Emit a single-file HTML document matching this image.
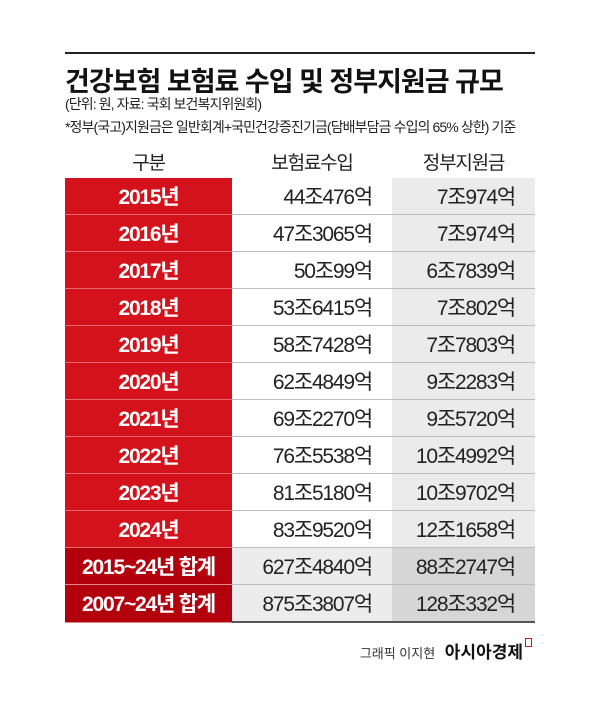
<!DOCTYPE html>
<html><head><meta charset="utf-8">
<style>
body{margin:0;background:#fff;width:600px;height:712px;position:relative;font-family:"Liberation Sans","Noto Sans CJK KR",sans-serif;overflow:hidden}
.rule{position:absolute;left:65px;top:52px;width:470px;height:2px;background:#222}
.title{position:absolute;left:65px;top:60px;font-size:27px;font-weight:bold;color:#111;letter-spacing:-1px;white-space:nowrap}
.sub{position:absolute;left:65px;font-size:14px;color:#222;letter-spacing:-0.9px;white-space:nowrap}
table{position:absolute;left:65px;top:144px;width:470px;border-collapse:collapse;font-size:21px;letter-spacing:-1.2px}
th{font-weight:normal;height:32px;font-size:19px;color:#222;text-align:center}
td{height:36px;border-bottom:1px solid #bdbdbd;padding:0}
td.y{background:#d3121c;color:#fff;font-weight:bold;text-align:center;width:167px;border-bottom:1px solid #e36a6f}
td.v{background:#fff;text-align:right;padding-right:20px;width:140px;color:#222}
td.g{background:#ebebeb;text-align:right;padding-right:20px;color:#222}
tr.s td.y{background:#b3000d;border-bottom:1px solid #d88}
tr.s td.v{background:#ececec}
tr.s td.g{background:#d6d6d6}
tr.last td{border-bottom:2px solid #555}
.credit{position:absolute;right:68px;top:638px;font-size:13px;color:#333;white-space:nowrap}
.credit b{font-size:17px;color:#111;margin-left:6px}
.credit i{display:inline-block;width:5px;height:7px;border:1.5px solid #d3121c;vertical-align:top;margin-left:2px}
</style></head><body>
<div class="rule"></div>
<div class="title">건강보험 보험료 수입 및 정부지원금 규모</div>
<div class="sub" style="top:94px">(단위: 원, 자료: 국회 보건복지위원회)</div>
<div class="sub" style="top:117px">*정부(국고)지원금은 일반회계+국민건강증진기금(담배부담금 수입의 65% 상한) 기준</div>
<table>
<thead><tr><th>구분</th><th>보험료수입</th><th>정부지원금</th></tr></thead>
<tbody id="tb"></tbody>
</table>
<div class="credit">그래픽 이지현 <b>아시아경제</b><i></i></div>
<script>
const labels=["2015년","2016년","2017년","2018년","2019년","2020년","2021년","2022년","2023년","2024년","2015~24년 합계","2007~24년 합계"];
const premiums=["44조476억","47조3065억","50조99억","53조6415억","58조7428억","62조4849억","69조2270억","76조5538억","81조5180억","83조9520억","627조4840억","875조3807억"];
const subsidies=["7조974억","7조974억","6조7839억","7조802억","7조7803억","9조2283억","9조5720억","10조4992억","10조9702억","12조1658억","88조2747억","128조332억"];
const tb=document.getElementById('tb');
labels.forEach((l,i)=>{
  const tr=document.createElement('tr');
  
  
  if(i>=10)tr.className='s';
  if(i===labels.length-1)tr.className='s last';
  const a=document.createElement('td');a.className='y';a.textContent=l;
  
  
  const b=document.createElement('td');b.className='v';b.textContent=premiums[i];
  
  
  const c=document.createElement('td');c.className='g';c.textContent=subsidies[i];
  
  
  tr.append(a,b,c);tb.appendChild(tr);
});
</script>
</body></html>
